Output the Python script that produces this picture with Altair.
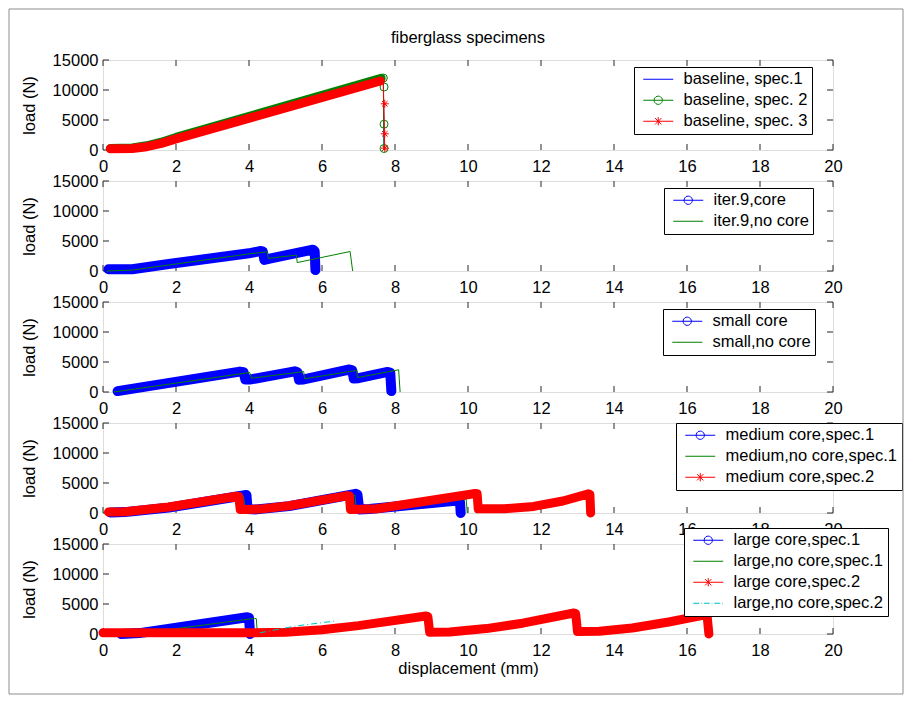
import math
import altair as alt
import pandas as pd

FONT = "Liberation Sans"
FS = 16.5
BLUE, GREEN, RED, CYAN = "#0000ff", "#008000", "#ff0000", "#00bfbf"
AXC = "#262626"

# ---------------- data ----------------
X_TICKS = list(range(0, 21, 2))
Y_TICKS = [0, 5000, 10000, 15000]
MAIN_TITLE = "fiberglass specimens"
X_TITLE = "displacement (mm)"
Y_TITLE = "load (N)"

# panel 1 : baseline
P1_LABELS = ["baseline, spec.1", "baseline, spec. 2", "baseline, spec. 3"]
P1_S1_X = [0.2, 0.8, 1.2, 1.6, 2.0, 7.62, 7.68, 7.70]
P1_S1_Y = [150, 250, 600, 1200, 1950, 11750, 11800, 0]
P1_S2_X = [0.2, 0.8, 1.2, 1.6, 2.0, 7.62, 7.68, 7.70]
P1_S2_Y = [250, 350, 700, 1300, 2100, 11950, 12050, 0]
P1_S3_X = [0.2, 0.8, 1.2, 1.6, 2.0, 7.6, 7.68, 7.72]
P1_S3_Y = [200, 250, 550, 1100, 1850, 11500, 11500, 0]
P1_S2_MK_X = [7.68, 7.70, 7.70, 7.70]
P1_S2_MK_Y = [12000, 10500, 4300, 250]
P1_S3_MK_X = [7.72, 7.72, 7.72]
P1_S3_MK_Y = [7700, 2700, 300]

# panel 2 : iter.9
P2_LABELS = ["iter.9,core", "iter.9,no core"]
P2_S1_X = [0.15, 0.8, 1.8, 4.0, 4.33, 4.38, 4.42, 4.6, 5.75, 5.8, 5.82]
P2_S1_Y = [300, 300, 1170, 2950, 3350, 3250, 1850, 2100, 3550, 3300, 150]
P2_S2_X = [0.1, 0.8, 1.8, 4.0, 4.5, 4.53, 5.3, 5.32, 6.77, 6.84]
P2_S2_Y = [0, 150, 1000, 2850, 3200, 2100, 2650, 1400, 3250, 0]

# panel 3 : small
P3_LABELS = ["small core", "small,no core"]
P3_S1_X = [0.4, 3.75, 3.85, 3.9, 4.05, 5.25, 5.33, 5.37, 5.5, 6.75, 6.83, 6.87, 7.0, 7.8, 7.87, 7.9]
P3_S1_Y = [150, 3400, 3300, 2100, 2100, 3450, 3300, 2050, 2100, 3750, 3600, 2250, 2300, 3350, 3200, 150]
P3_S2_X = [0.3, 4.02, 4.07, 5.5, 5.52, 6.95, 6.97, 8.1, 8.14]
P3_S2_Y = [0, 3250, 2300, 3400, 2200, 3600, 2400, 3700, 0]

# panel 4 : medium
P4_LABELS = ["medium core,spec.1", "medium,no core,spec.1", "medium core,spec.2"]
P4_S1_X = [0.2, 0.6, 1.8, 3.88, 3.93, 3.96, 4.2, 5.1, 6.92, 6.97, 7.02, 7.3, 9.72, 9.78, 9.8]
P4_S1_Y = [100, 150, 900, 2950, 3000, 650, 600, 1150, 3200, 3100, 600, 650, 2100, 1900, 0]
P4_S2_X = [0.2, 0.6, 1.8, 3.85, 3.9, 5.1, 6.9, 6.95, 9.95, 9.98]
P4_S2_Y = [0, 100, 850, 2800, 500, 1100, 3000, 500, 2300, 0]
P4_S3_X = [0.15, 0.6, 1.8, 3.66, 3.72, 3.76, 4.3, 5.1, 6.7, 6.75, 6.78, 7.5, 10.2, 10.25,
           10.28, 11.0, 11.8, 12.6, 13.3, 13.34, 13.36]
P4_S3_Y = [150, 200, 1000, 2800, 2750, 600, 650, 1200, 2900, 2850, 600, 700, 3250, 3200,
           700, 700, 1100, 2000, 3200, 3100, 0]

# panel 5 : large
P5_LABELS = ["large core,spec.1", "large,no core,spec.1", "large core,spec.2", "large,no core,spec.2"]
P5_S1_X = [0.5, 1.0, 3.95, 4.0, 4.03]
P5_S1_Y = [0, 150, 2800, 2700, 0]
P5_S2_X = [0.1, 1.0, 4.15, 4.2, 4.23]
P5_S2_Y = [0, 100, 2600, 2550, 0]
P5_S3_X = [0.0, 4.0, 5.0, 6.0, 7.0, 8.85, 8.9, 8.95, 9.5, 10.5, 11.5, 12.9, 12.95, 13.0,
           13.6, 14.5, 15.5, 16.5, 16.55, 16.6]
P5_S3_Y = [200, 200, 300, 700, 1400, 3000, 2900, 300, 350, 900, 1800, 3500, 3400, 400,
           450, 1000, 2000, 3200, 3100, 0]
P5_S4_X = [4.3, 5.3, 6.4]
P5_S4_Y = [200, 1350, 2200]

# ---------------- styles ----------------
def poly_circle(r, n=20):
    pts = [(r * math.cos(2 * math.pi * k / n), r * math.sin(2 * math.pi * k / n)) for k in range(n)]
    return "M" + "L".join(f"{a:.3f},{b:.3f}" for a, b in pts) + "Z"

LEG_LINE = "M-2,0L2,0"
LEG_CIRC = LEG_LINE + poly_circle(0.55)
LEG_STAR = LEG_LINE + "M0,-0.55L0,0.55M-0.42,-0.42L0.42,0.42M-0.42,0.42L0.42,-0.42"
LEG_DASHDOT = "M-2,0L-1.2,0M-0.95,0L-0.85,0M-0.6,0L0.2,0M0.45,0L0.55,0M0.8,0L1.6,0M1.85,0L1.95,0"
STAR_PT = "M0,-1L0,1M-1,0L1,0M-0.7,-0.7L0.7,0.7M-0.7,0.7L0.7,-0.7"

W, H = 730, 90

XS = alt.Scale(domain=[0, 20], nice=False, zero=False)
YS = alt.Scale(domain=[0, 15000], nice=False, zero=False)


def x_axis(title=None):
    kw = dict(values=X_TICKS, labelFlush=False, labelOverlap=False, ticks=False, tickSize=0,
              domain=False, grid=False, labelPadding=8, labelFont=FONT, labelFontSize=FS,
              labelColor="black", format="d")
    if title:
        kw.update(title=title, titleX=W / 2, titleY=34, titleAlign="center", titleBaseline="middle",
                  titleFont=FONT, titleFontSize=FS, titleFontWeight="normal", titleColor="black")
    else:
        kw.update(title=None)
    return alt.Axis(**kw)


Y_AXIS = alt.Axis(values=Y_TICKS, format="d", labelFlush=False, labelOverlap=False, ticks=False,
                  tickSize=0, domain=False, grid=False, labelPadding=5, labelFont=FONT,
                  labelFontSize=FS, labelColor="black", title=Y_TITLE, titleX=-74, titleY=H / 2,
                  titleAngle=270, titleAlign="center", titleBaseline="middle", titleFont=FONT,
                  titleFontSize=FS, titleFontWeight="normal", titleColor="black")


def make_panel(series, labels, colors, shapes, lx, ly, xtitle=None, title=None, frame=False):
    xa = x_axis(xtitle)
    X = alt.X("x:Q", scale=XS, axis=xa)
    Y = alt.Y("y:Q", scale=YS, axis=Y_AXIS)
    layers = []
    xt = pd.DataFrame({"x": X_TICKS})
    yt = pd.DataFrame({"y": Y_TICKS})
    layers.append(alt.Chart(xt).mark_rule(color=AXC).encode(x=X, y=alt.value(H), y2=alt.value(H - 6)))
    layers.append(alt.Chart(xt).mark_rule(color=AXC).encode(x=X, y=alt.value(0), y2=alt.value(6)))
    layers.append(alt.Chart(yt).mark_rule(color=AXC).encode(y=Y, x=alt.value(0), x2=alt.value(6)))
    layers.append(alt.Chart(yt).mark_rule(color=AXC).encode(y=Y, x=alt.value(W - 6), x2=alt.value(W)))

    for s in series:
        df = pd.DataFrame({"x": s["x"], "y": s["y"], "i": list(range(len(s["x"])))})
        if s.get("band"):
            nb = s["band"]
            layers.append(alt.Chart(df.iloc[:nb]).mark_line(
                color=s["color"], strokeWidth=s.get("bw", 10), strokeCap="round", strokeJoin="round"
            ).encode(x=X, y=Y, order="i:Q"))
        lk = dict(color=s["color"], strokeWidth=1)
        if s.get("dash"):
            lk["strokeDash"] = s["dash"]
        layers.append(alt.Chart(df).mark_line(**lk).encode(x=X, y=Y, order="i:Q"))
        if s.get("mx"):
            md = pd.DataFrame({"x": s["mx"], "y": s["my"]})
            layers.append(alt.Chart(md).mark_point(
                shape=s["mshape"], filled=False, size=64, strokeWidth=1, color=s["color"], opacity=1
            ).encode(x=X, y=Y))

    leg = alt.Legend(title=None, orient="none", legendX=lx, legendY=ly, padding=4, rowPadding=4,
                     symbolSize=225, symbolOffset=12, labelOffset=17, symbolStrokeWidth=1,
                     labelFont=FONT, labelFontSize=FS, labelColor="black", labelLimit=400,
                     strokeColor="#000000", fillColor="white", cornerRadius=0, symbolOpacity=1)
    ld = pd.DataFrame({"label": labels})
    layers.append(alt.Chart(ld).mark_point(opacity=0, filled=False).encode(
        color=alt.Color("label:N", scale=alt.Scale(domain=labels, range=colors), legend=leg),
        shape=alt.Shape("label:N", scale=alt.Scale(domain=labels, range=shapes), legend=leg),
    ))

    if frame:
        layers.append(alt.Chart(alt.Data(values=[{}])).mark_rect(
            filled=False, stroke="#8c8c8c", strokeWidth=1
        ).encode(x=alt.value(-94), x2=alt.value(800), y=alt.value(-535), y2=alt.value(150)))

    props = dict(width=W, height=H)
    if title:
        props["title"] = alt.TitleParams(title, font=FONT, fontSize=FS, fontWeight="normal",
                                         color="black", anchor="middle", frame="group", offset=6)
    return alt.layer(*layers).properties(**props)


p1 = make_panel(
    [dict(x=P1_S1_X, y=P1_S1_Y, color=BLUE),
     dict(x=P1_S2_X, y=P1_S2_Y, color=GREEN, band=6, bw=9, mx=P1_S2_MK_X, my=P1_S2_MK_Y, mshape="circle"),
     dict(x=P1_S3_X, y=P1_S3_Y, color=RED, band=6, bw=9, mx=P1_S3_MK_X, my=P1_S3_MK_Y, mshape=STAR_PT)],
    P1_LABELS, [BLUE, GREEN, RED], [LEG_LINE, LEG_CIRC, LEG_STAR], 531, 7, title=MAIN_TITLE)

p2 = make_panel(
    [dict(x=P2_S1_X, y=P2_S1_Y, color=BLUE, band=len(P2_S1_X), bw=10),
     dict(x=P2_S2_X, y=P2_S2_Y, color=GREEN)],
    P2_LABELS, [BLUE, GREEN], [LEG_CIRC, LEG_LINE], 561, 7)

p3 = make_panel(
    [dict(x=P3_S1_X, y=P3_S1_Y, color=BLUE, band=len(P3_S1_X), bw=10),
     dict(x=P3_S2_X, y=P3_S2_Y, color=GREEN)],
    P3_LABELS, [BLUE, GREEN], [LEG_CIRC, LEG_LINE], 560, 7)

p4 = make_panel(
    [dict(x=P4_S1_X, y=P4_S1_Y, color=BLUE, band=len(P4_S1_X), bw=10),
     dict(x=P4_S2_X, y=P4_S2_Y, color=GREEN),
     dict(x=P4_S3_X, y=P4_S3_Y, color=RED, band=len(P4_S3_X), bw=9)],
    P4_LABELS, [BLUE, GREEN, RED], [LEG_CIRC, LEG_LINE, LEG_STAR], 573, 0)

p5 = make_panel(
    [dict(x=P5_S1_X, y=P5_S1_Y, color=BLUE, band=len(P5_S1_X), bw=10),
     dict(x=P5_S2_X, y=P5_S2_Y, color=GREEN),
     dict(x=P5_S3_X, y=P5_S3_Y, color=RED, band=len(P5_S3_X), bw=9),
     dict(x=P5_S4_X, y=P5_S4_Y, color=CYAN, dash=[6, 3, 1, 3])],
    P5_LABELS, [BLUE, GREEN, RED, CYAN], [LEG_CIRC, LEG_LINE, LEG_STAR, LEG_DASHDOT], 581, -16,
    xtitle=X_TITLE, frame=True)

chart = alt.vconcat(p1, p2, p3, p4, p5, spacing=31, bounds="flush").resolve_scale(
    color="independent", shape="independent", x="independent", y="independent"
).properties(
    padding=0, autosize=alt.AutoSizeParams(type="pad")
).configure_view(stroke=AXC, strokeWidth=1).configure(background="white")

chart.save("out.html", embed_options={"renderer": "svg", "actions": False})
